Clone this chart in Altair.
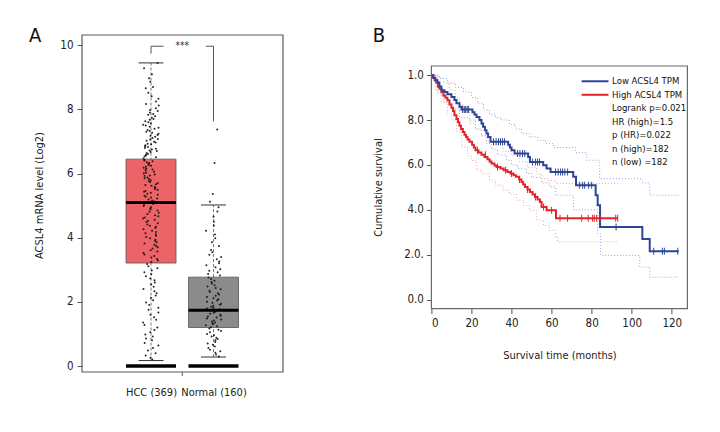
import json
import altair as alt
import pandas as pd

FONT = "DejaVu Sans Condensed, Liberation Sans Narrow, sans-serif"

# ---------------- Panel A data ----------------
groups = ["HCC (369)", "Normal (160)"]
box_q1 = [3.21, 1.20]
box_median = [5.10, 1.74]
box_q3 = [6.45, 2.77]
whisker_low = [0.17, 0.28]
whisker_high = [9.45, 5.02]
zero_bar = [0.0, 0.0]

hcc_values = [
    9.45, 9.28, 9.10, 8.97, 8.86, 8.70, 8.66, 8.52, 8.41, 8.33, 8.25, 8.17, 8.12, 8.04, 7.98,
    7.95, 7.90, 7.86, 7.83, 7.79, 7.74, 7.70, 7.68, 7.63, 7.60, 7.57, 7.52, 7.50, 7.46, 7.43,
    7.40, 7.36, 7.33, 7.30, 7.27, 7.24, 7.20, 7.18, 7.15, 7.11, 7.08, 7.06, 7.02, 6.99, 6.97,
    6.93, 6.91, 6.88, 6.85, 6.83, 6.80, 6.77, 6.75, 6.72, 6.70, 6.67, 6.64, 6.61, 6.59, 6.56,
    6.53, 6.51, 6.47, 6.43, 6.41, 6.38, 6.35, 6.33, 6.29, 6.27, 6.24, 6.21, 6.18, 6.15, 6.13,
    6.10, 6.06, 6.03, 6.01, 5.97, 5.94, 5.92, 5.88, 5.85, 5.83, 5.79, 5.76, 5.74, 5.70, 5.67,
    5.64, 5.62, 5.58, 5.55, 5.52, 5.49, 5.46, 5.43, 5.40, 5.37, 5.34, 5.31, 5.28, 5.25, 5.22,
    5.19, 5.16, 5.13, 5.11, 5.08, 5.05, 5.02, 4.99, 4.95, 4.92, 4.88, 4.85, 4.81, 4.78, 4.74,
    4.70, 4.67, 4.63, 4.60, 4.56, 4.52, 4.49, 4.45, 4.41, 4.37, 4.34, 4.30, 4.26, 4.22, 4.18,
    4.14, 4.10, 4.06, 4.02, 3.98, 3.94, 3.90, 3.86, 3.82, 3.78, 3.74, 3.70, 3.66, 3.61, 3.57,
    3.52, 3.48, 3.43, 3.38, 3.34, 3.29, 3.24, 3.18, 3.11, 3.05, 2.98, 2.92, 2.86, 2.80, 2.73,
    2.67, 2.60, 2.54, 2.47, 2.40, 2.33, 2.27, 2.20, 2.13, 2.05, 1.98, 1.90, 1.82, 1.75, 1.67,
    1.60, 1.52, 1.44, 1.36, 1.28, 1.20, 1.12, 1.05, 0.98, 0.92, 0.86, 0.80, 0.72, 0.64, 0.56,
    0.48, 0.40, 0.33, 0.26, 0.20,
]
normal_values = [
    7.37, 6.33, 5.36, 5.12, 4.95, 4.82, 4.65, 4.50, 4.38, 4.22, 4.10, 3.98, 3.86, 3.74, 3.62,
    3.55, 3.47, 3.40, 3.33, 3.26, 3.20, 3.14, 3.08, 3.02, 2.97, 2.92, 2.87, 2.82, 2.76, 2.71,
    2.66, 2.62, 2.57, 2.52, 2.48, 2.43, 2.39, 2.35, 2.31, 2.27, 2.23, 2.19, 2.15, 2.11, 2.08,
    2.04, 2.00, 1.97, 1.94, 1.91, 1.88, 1.85, 1.82, 1.79, 1.77, 1.75, 1.73, 1.71, 1.69, 1.66,
    1.63, 1.60, 1.57, 1.54, 1.51, 1.48, 1.45, 1.42, 1.39, 1.36, 1.33, 1.30, 1.27, 1.24, 1.21,
    1.17, 1.13, 1.09, 1.05, 1.00, 0.96, 0.92, 0.88, 0.84, 0.80, 0.75, 0.70, 0.66, 0.61, 0.56,
    0.51, 0.46, 0.41, 0.36, 0.30,
]

bracket_x1 = [0.0, 0.0, 0.88, 1.0]
bracket_x2 = [0.0, 0.2, 1.0, 1.0]
bracket_y1 = [9.74, 9.97, 9.97, 9.97]
bracket_y2 = [9.97, 9.97, 9.97, 7.63]
sig_text = ["***"]
sig_x = [0.5]
sig_y = [9.97]

# ---------------- Panel B data ----------------
low_label = "Low ACSL4 TPM"
high_label = "High ACSL4 TPM"

low_t = [0, 1, 2, 3, 4, 5, 6.5, 8, 10, 11.5, 12.5, 14, 15, 20.5, 21.5, 22.5, 24, 25, 25.8,
         26.7, 27.5, 28.3, 29.5, 38.3, 39.2, 40, 41.5, 48.3, 49.2, 55.8, 57.5, 59.5, 70.8,
         72.2, 82, 83, 84.2, 105.3, 109, 123.5]
low_s = [1.0, 0.989, 0.978, 0.967, 0.95, 0.933, 0.925, 0.915, 0.903, 0.89, 0.875, 0.859,
         0.847, 0.835, 0.825, 0.814, 0.8, 0.785, 0.77, 0.755, 0.74, 0.725, 0.703, 0.69,
         0.678, 0.666, 0.651, 0.636, 0.613, 0.599, 0.584, 0.569, 0.547, 0.51, 0.465, 0.42,
         0.324, 0.27, 0.216, 0.216]

high_t = [0, 0.8, 1.6, 2.4, 3.2, 4, 5, 6, 7, 8, 9, 10, 10.8, 11.5, 12.5, 13.3, 14, 14.8,
          15.7, 16.5, 17.3, 18, 19, 20.3, 21.2, 22, 23.5, 25, 26.5, 28, 29, 30, 31.5, 32.5,
          34.5, 36, 38, 39.5, 41, 42.2, 43.8, 45, 45.8, 46.7, 48, 49.2, 50.5, 51.7, 53, 54.2,
          55, 57.5, 62.2, 93]
high_s = [1.0, 0.989, 0.978, 0.967, 0.95, 0.94, 0.925, 0.91, 0.9, 0.888, 0.87, 0.855, 0.84,
          0.822, 0.805, 0.79, 0.775, 0.76, 0.747, 0.735, 0.725, 0.713, 0.703, 0.69, 0.678,
          0.666, 0.656, 0.645, 0.636, 0.625, 0.615, 0.606, 0.598, 0.591, 0.584, 0.576, 0.569,
          0.562, 0.554, 0.547, 0.535, 0.524, 0.513, 0.502, 0.491, 0.48, 0.468, 0.457, 0.446,
          0.435, 0.413, 0.398, 0.363, 0.363]

low_cens_t = [15.6, 16.4, 17.1, 17.9, 18.6, 31, 32.3, 33.5, 34.5, 35.5, 36.5, 43, 44.2, 45.5,
              46.6, 50.5, 52, 53, 54, 62, 63.3, 64.5, 65.5, 66.6, 68, 74, 75.5, 76.5, 78.5,
              80, 92.2, 111, 115.3, 116.3, 123]
low_cens_s = [0.847, 0.847, 0.847, 0.847, 0.847, 0.703, 0.703, 0.703, 0.703, 0.703, 0.703,
              0.651, 0.651, 0.651, 0.651, 0.613, 0.613, 0.613, 0.613, 0.569, 0.569, 0.569,
              0.569, 0.569, 0.569, 0.51, 0.51, 0.51, 0.51, 0.51, 0.324, 0.216, 0.216, 0.216,
              0.216]
high_cens_t = [23, 27, 33, 37, 40, 44, 48, 52, 56, 60, 64.2, 68, 75, 78.3, 80.5, 81.3, 82.5,
               84.2, 92, 93]
high_cens_s = [0.666, 0.645, 0.591, 0.576, 0.562, 0.535, 0.491, 0.457, 0.413, 0.398, 0.363,
               0.363, 0.363, 0.363, 0.363, 0.363, 0.363, 0.363, 0.363, 0.363]

low_up_t = [0, 4, 8, 12, 16, 20, 23, 26, 29, 32, 35, 39, 42, 45, 49, 53, 57, 61, 72, 77.5,
            84, 105.3, 109, 123.5]
low_up_s = [1.0, 0.985, 0.965, 0.945, 0.925, 0.9, 0.875, 0.845, 0.825, 0.81, 0.8, 0.78,
            0.76, 0.74, 0.725, 0.71, 0.695, 0.678, 0.655, 0.621, 0.539, 0.52, 0.465, 0.465]
low_lo_t = [0, 3, 6, 10, 14, 19, 22, 25, 27.5, 30, 33, 37.5, 40, 43, 47.5, 50, 55, 59, 62,
            71, 83, 84.5, 104, 109, 123.5]
low_lo_s = [1.0, 0.92, 0.88, 0.85, 0.81, 0.8, 0.76, 0.73, 0.695, 0.67, 0.645, 0.621, 0.6,
            0.585, 0.562, 0.545, 0.52, 0.502, 0.465, 0.4, 0.294, 0.197, 0.145, 0.1, 0.1]
high_up_t = [0, 3, 6, 9, 12, 14, 16, 19, 22, 25, 27.5, 31, 35.8, 40, 44, 48, 52.5, 55, 58,
             62.2, 93]
high_up_s = [1.0, 0.99, 0.965, 0.935, 0.9, 0.87, 0.84, 0.785, 0.76, 0.73, 0.703, 0.69, 0.66,
             0.64, 0.615, 0.59, 0.56, 0.54, 0.53, 0.517, 0.517]
high_lo_t = [0, 2, 5, 8, 10, 12.5, 15, 18, 20, 22.5, 25, 29, 32, 35.8, 39, 42.5, 46, 49,
             52.5, 56, 59, 62, 63, 93]
high_lo_s = [1.0, 0.93, 0.88, 0.83, 0.8, 0.75, 0.68, 0.64, 0.62, 0.576, 0.56, 0.532, 0.51,
             0.487, 0.47, 0.443, 0.42, 0.398, 0.354, 0.33, 0.309, 0.279, 0.257, 0.257]

legend_lines = [low_label, high_label, "Logrank p=0.021", "HR (high)=1.5", "p (HR)=0.022",
                "n (high)=182", "n (low) =182"]
y_tick_values = [0.0, 0.2, 0.4, 0.6, 0.8, 1.0]

BLUE = "#2c4597"
RED = "#e3242b"
BLUE_CI = "#9aa3dc"
RED_CI = "#f3a3a6"
TXT = "#222"

# ---------------- Panel A ----------------
WA, HA = 201, 337
xa_dom = [-1.104, 2.112]
ya_dom = [-0.187, 10.32]
xa = alt.Scale(domain=xa_dom, nice=False, zero=False)
ya = alt.Scale(domain=ya_dom, nice=False, zero=False)
gexpr = f"indexof({json.dumps(groups)}, datum.group)"

box_df = pd.DataFrame({"group": groups, "q1": box_q1, "med": box_median, "q3": box_q3,
                       "wlo": whisker_low, "whi": whisker_high, "zero": zero_bar})
boxbase = alt.Chart(box_df).transform_calculate(
    pos=gexpr,
).transform_calculate(
    lo="datum.pos - 0.4", hi="datum.pos + 0.4", clo="datum.pos - 0.2", chi="datum.pos + 0.2"
)

frame_a = alt.Chart(pd.DataFrame({"x1": [xa_dom[0]], "x2": [xa_dom[1]], "y1": [ya_dom[0]],
                                  "y2": [ya_dom[1]]})).mark_rect(
    fillOpacity=0, stroke="#5a5a5a", strokeWidth=1.2).encode(
    x=alt.X("x1:Q", scale=xa, axis=alt.Axis(values=[0, 1], ticks=False, tickSize=0, domain=False,
            grid=False, labelPadding=14, labelFontSize=11, labelColor=TXT, title=None,
            labelExpr=f"datum.value == 0 ? '{groups[0]}' : '{groups[1]}'")),
    x2="x2:Q",
    y=alt.Y("y1:Q", scale=ya, axis=alt.Axis(values=[0, 2, 4, 6, 8, 10], tickSize=5, domain=False,
            grid=False, labelPadding=4, labelFontSize=11.5, labelColor=TXT, tickColor="#555",
            title="ACSL4 mRNA level (Log2)", titleFontSize=11, titleFontWeight="normal",
            titleColor=TXT, titleX=-43, titleY=160, titleBaseline="middle")),
    y2="y2:Q",
)

whiskers = boxbase.mark_rule(color="#555", strokeWidth=0.8, strokeDash=[3, 2]).encode(
    x=alt.X("pos:Q", scale=xa), y=alt.Y("wlo:Q", scale=ya), y2="whi:Q")
boxes = boxbase.mark_rect(stroke="#555", strokeWidth=0.8).encode(
    x=alt.X("lo:Q", scale=xa), x2="hi:Q",
    y=alt.Y("q1:Q", scale=ya), y2="q3:Q",
    color=alt.Color("group:N", scale=alt.Scale(domain=groups, range=["#ec6468", "#8b8b8b"]),
                    legend=None),
)
caps_hi = boxbase.mark_rule(color="#333", strokeWidth=1).encode(
    x=alt.X("clo:Q", scale=xa), x2="chi:Q", y=alt.Y("whi:Q", scale=ya))
caps_lo = boxbase.mark_rule(color="#333", strokeWidth=1).encode(
    x=alt.X("clo:Q", scale=xa), x2="chi:Q", y=alt.Y("wlo:Q", scale=ya))
medians = boxbase.mark_rule(color="#000", strokeWidth=3).encode(
    x=alt.X("lo:Q", scale=xa), x2="hi:Q", y=alt.Y("med:Q", scale=ya))
zeros = boxbase.mark_rule(color="#000", strokeWidth=3.5).encode(
    x=alt.X("lo:Q", scale=xa), x2="hi:Q", y=alt.Y("zero:Q", scale=ya))

pts_df = pd.DataFrame({
    "group": [groups[0]] * len(hcc_values) + [groups[1]] * len(normal_values),
    "value": hcc_values + normal_values,
})
points = alt.Chart(pts_df).transform_window(
    i="row_number()", groupby=["group"]
).transform_calculate(
    pos=gexpr
).transform_calculate(
    h="sin(datum.i * 12.9898 + datum.pos * 78.233) * 43758.5453"
).transform_calculate(
    px="datum.pos + ((datum.h - floor(datum.h)) - 0.5) * 0.25"
).mark_circle(size=4, color="#111", opacity=0.9).encode(
    x=alt.X("px:Q", scale=xa), y=alt.Y("value:Q", scale=ya))

br_df = pd.DataFrame({"x1": bracket_x1, "x2": bracket_x2, "y1": bracket_y1, "y2": bracket_y2})
bracket = alt.Chart(br_df).mark_rule(color="#555", strokeWidth=1).encode(
    x=alt.X("x1:Q", scale=xa), x2="x2:Q", y=alt.Y("y1:Q", scale=ya), y2="y2:Q")
sig = alt.Chart(pd.DataFrame({"t": sig_text, "x": sig_x, "y": sig_y})).mark_text(
    fontSize=10, color="#333", baseline="middle").encode(
    x=alt.X("x:Q", scale=xa), y=alt.Y("y:Q", scale=ya), text="t:N")
xtick = alt.Chart(pd.DataFrame({"x": [0.5]})).mark_rule(color="#555").encode(
    x=alt.X("x:Q", scale=xa), y=alt.value(HA), y2=alt.value(HA + 4))
letter_a = alt.Chart(pd.DataFrame({"t": ["A"]})).mark_text(
    fontSize=20, align="left", baseline="alphabetic", color="#111").encode(
    text="t:N", x=alt.value(-53), y=alt.value(7.3))

panel_a = alt.layer(frame_a, whiskers, boxes, caps_hi, caps_lo, points, medians, zeros, bracket,
                    sig, xtick, letter_a).properties(width=WA, height=HA)

# ---------------- Panel B ----------------
WB, HB = 256, 273.6
xb_dom = [0, 127.8]
yb_dom = [-0.04, 1.041]
xb = alt.Scale(domain=xb_dom, nice=False, zero=False)
yb = alt.Scale(domain=yb_dom, nice=False, zero=False, range=[HB, 31])

frame_b = alt.Chart(pd.DataFrame({"x1": [xb_dom[0]], "x2": [xb_dom[1]], "y1": [yb_dom[0]],
                                  "y2": [yb_dom[1]]})).mark_rect(
    fillOpacity=0, stroke="#6a6a6a", strokeWidth=1.2).encode(
    x=alt.X("x1:Q", scale=xb, axis=alt.Axis(values=[0, 20, 40, 60, 80, 100, 120], tickSize=5,
            domain=False, grid=False, labelPadding=4, labelFontSize=11.5, labelColor=TXT,
            tickColor="#555", title="Survival time (months)", titleFontSize=11,
            titleFontWeight="normal", titleColor=TXT, titleY=47, titleBaseline="middle")),
    x2="x2:Q",
    y=alt.Y("y1:Q", scale=yb, axis=alt.Axis(values=y_tick_values, tickSize=5, domain=False,
            grid=False, labelPadding=3, labelFontSize=11.5, labelColor=TXT, tickColor="#555",
            labelExpr="datum.value >= 0.99 ? '1.0' : datum.value >= 0.79 ? '8.0' : "
                      "datum.value >= 0.59 ? '6.0' : datum.value >= 0.39 ? '4.0' : "
                      "datum.value >= 0.19 ? '2.0.' : '0.0'",
            title="Cumulative survival", titleFontSize=11, titleFontWeight="normal",
            titleColor=TXT, titleX=-53, titleY=152, titleBaseline="middle")),
    y2="y2:Q",
)


def curve(ts, ss, color, dashed=False, width=2.0):
    df = pd.DataFrame({"t": ts, "s": ss})
    kw = dict(interpolate="step-after", color=color, strokeWidth=width)
    if dashed:
        kw.update(strokeDash=[1, 2], strokeWidth=1)
    return alt.Chart(df).mark_line(**kw).encode(
        x=alt.X("t:Q", scale=xb), y=alt.Y("s:Q", scale=yb))


def censors(ts, ss, color):
    df = pd.DataFrame({"t": ts, "s": ss})
    return alt.Chart(df).mark_tick(orient="vertical", size=7, thickness=1, color=color,
                                   opacity=1).encode(
        x=alt.X("t:Q", scale=xb), y=alt.Y("s:Q", scale=yb))


leg_df = pd.DataFrame({"label": legend_lines, "i": list(range(len(legend_lines)))})
leg_text = alt.Chart(leg_df).transform_calculate(
    lx="90.2", ly="0.973 - datum.i * 0.0602"
).mark_text(align="left", baseline="middle", fontSize=9.5, color="#111").encode(
    x=alt.X("lx:Q", scale=xb), y=alt.Y("ly:Q", scale=yb), text="label:N")
leg_sym_df = pd.DataFrame({"label": [low_label, high_label], "i": [0, 1]})


def leg_rule(idx, color):
    return alt.Chart(leg_sym_df).transform_filter(f"datum.i == {idx}").transform_calculate(
        a="75.0", b="88.4", ly="0.973 - datum.i * 0.0602"
    ).mark_rule(color=color, strokeWidth=2).encode(
        x=alt.X("a:Q", scale=xb), x2="b:Q", y=alt.Y("ly:Q", scale=yb))


letter_b = alt.Chart(pd.DataFrame({"t": ["B"]})).mark_text(
    fontSize=20, align="left", baseline="alphabetic", color="#111").encode(
    text="t:N", x=alt.value(-58.7), y=alt.value(7.3))

panel_b = alt.layer(
    frame_b,
    curve(low_up_t, low_up_s, BLUE_CI, dashed=True),
    curve(low_lo_t, low_lo_s, BLUE_CI, dashed=True),
    curve(high_up_t, high_up_s, RED_CI, dashed=True),
    curve(high_lo_t, high_lo_s, RED_CI, dashed=True),
    curve(high_t, high_s, RED),
    curve(low_t, low_s, BLUE),
    censors(high_cens_t, high_cens_s, RED),
    censors(low_cens_t, low_cens_s, BLUE),
    leg_rule(0, BLUE), leg_rule(1, RED), leg_text, letter_b,
).properties(width=WB, height=HB)

chart = alt.hconcat(panel_a, panel_b, spacing=148.4, bounds="flush").properties(
    padding={"left": 21, "top": 18, "right": 5, "bottom": 5}
).configure(font=FONT).configure_view(strokeWidth=0).configure_text(font=FONT)

chart.save("out.html", embed_options={"renderer": "svg", "actions": False})
